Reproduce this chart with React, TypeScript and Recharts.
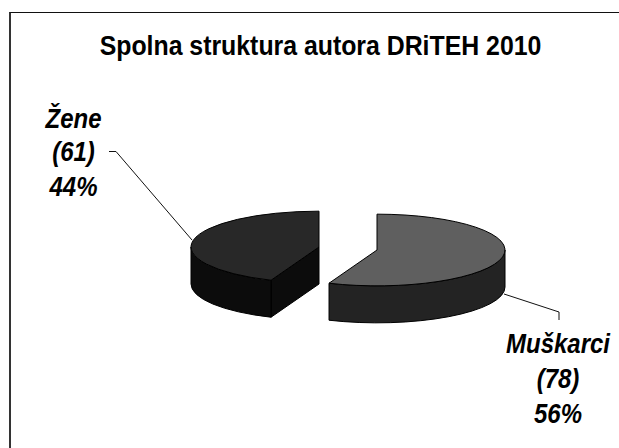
import { PieChart, Pie } from "recharts";

const names = ["Muškarci", "Žene"];
const counts = [78, 61];
const topColors = ["#5f5f5f", "#282828"];
const wallColors = ["#232323", "#0c0c0c"];

const tableData = names.map((name, i) => ({
  name,
  value: counts[i],
  fill: topColors[i],
  wall: wallColors[i],
}));

const WIDTH = 619;
const HEIGHT = 448;
const TILT = 0.28; // ry / rx of the squashed ellipse
const DEPTH = 37;
const FONT = '"Liberation Sans", Arial, sans-serif';
const TEXT_STRETCH = 1.13; // the source text is a bit taller than the font

// how far each slice is pulled out of the pie, and where its label sits
const explode: Record<string, { dx: number; dy: number }> = {
  Muškarci: { dx: 29, dy: 1.5 },
  Žene: { dx: -29, dy: -1.5 },
};
const labelPos: Record<string, { x: number; y: number[]; line: string }> = {
  Muškarci: { x: 558, y: [353, 388, 423], line: "504,294 559,312 559,320" },
  Žene: { x: 73.5, y: [128, 161, 196], line: "109,151.5 116,151.5 192,240" },
};

function Slice3D(props: any) {
  const { cx, cy, outerRadius, startAngle, endAngle, fill, stroke, name, wall } = props;
  const off = explode[name];
  const x0 = cx + off.dx;
  const y0 = cy + off.dy;
  const rx = outerRadius;
  const ry = outerRadius * TILT;
  const pt = (deg: number, drop = 0) => {
    const r = (deg * Math.PI) / 180;
    return `${x0 + rx * Math.cos(r)} ${y0 - ry * Math.sin(r) + drop}`;
  };

  const top = `M${x0} ${y0} L${pt(startAngle)} A${rx} ${ry} 0 ${startAngle - endAngle > 180 ? 1 : 0} 1 ${pt(endAngle)} Z`;

  // outer wall only shows on the front half of the ellipse
  const hi = Math.min(startAngle, 0);
  const lo = Math.max(endAngle, -180);
  const wallPath =
    hi > lo
      ? `M${pt(hi)} A${rx} ${ry} 0 0 1 ${pt(lo)} L${pt(lo, DEPTH)} A${rx} ${ry} 0 0 0 ${pt(hi, DEPTH)} Z`
      : null;

  // the cut face shows when it turns towards the viewer
  const cutVisible = Math.sin(((startAngle + 90) * Math.PI) / 180) < -0.01;
  const cutPath = cutVisible
    ? `M${x0} ${y0} L${pt(startAngle)} L${pt(startAngle, DEPTH)} L${x0} ${y0 + DEPTH} Z`
    : null;

  return (
    <g>
      {cutPath && <path d={cutPath} fill={wall} stroke={stroke} strokeWidth={1} />}
      {wallPath && <path d={wallPath} fill={wall} stroke={stroke} strokeWidth={1} />}
      <path d={top} fill={fill} stroke={stroke} strokeWidth={1} />
    </g>
  );
}

function SliceLabel(props: any) {
  const { name, value, percent } = props;
  const pos = labelPos[name];
  const lines = [name, `(${value})`, `${Math.round(percent * 100)}%`];
  return (
    <g>
      <polyline points={pos.line} fill="none" stroke="#111" strokeWidth={1} />
      {lines.map((line, i) => (
        <text
          key={line}
          transform={`translate(${pos.x} ${pos.y[i]}) scale(1 ${TEXT_STRETCH})`}
          textAnchor="middle"
          fontFamily={FONT}
          fontSize={24}
          fontWeight="bold"
          fontStyle="italic"
          fill="#000"
        >
          {line}
        </text>
      ))}
    </g>
  );
}

export default function App() {
  return (
    <div style={{ position: "absolute", left: 0, top: 0, width: WIDTH, height: HEIGHT, overflow: "hidden", background: "#fff" }}>
      <div style={{ position: "absolute", left: 9, top: 12, right: 0, bottom: 0, borderLeft: "2px solid #333", borderTop: "1px solid #111" }} />
      <PieChart width={WIDTH} height={HEIGHT} margin={{ top: 0, right: 0, bottom: 0, left: 0 }} style={{ position: "absolute", left: 0, top: 0 }}>
        <text transform={`translate(320.5 55) scale(1 ${TEXT_STRETCH})`} textAnchor="middle" fontFamily={FONT} fontSize={24.85} fontWeight="bold" fill="#000">
          Spolna struktura autora DRiTEH 2010
        </text>
        <Pie
          data={tableData}
          dataKey="value"
          nameKey="name"
          cx={348}
          cy={248.5}
          innerRadius={0}
          outerRadius={128}
          startAngle={90}
          endAngle={-270}
          stroke="#000"
          shape={Slice3D}
          label={SliceLabel}
          labelLine={false}
          isAnimationActive={false}
        />
      </PieChart>
    </div>
  );
}
